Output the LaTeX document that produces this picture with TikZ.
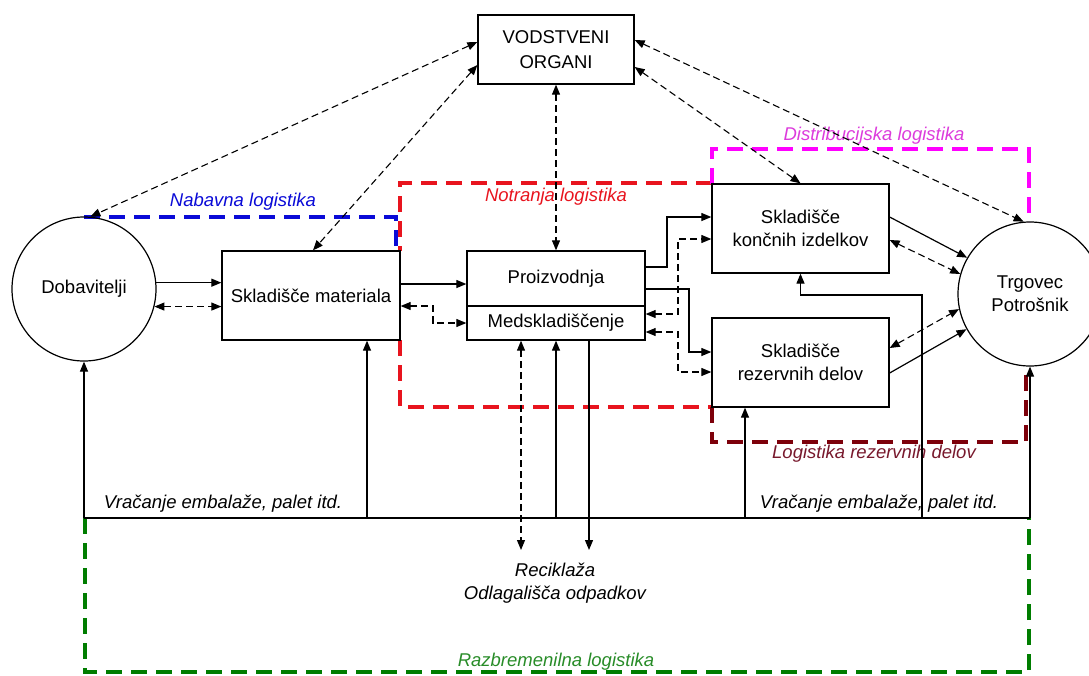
\documentclass[tikz,border=0pt]{standalone}
\usepackage{fontspec}
\setmainfont{Liberation Sans}
\usetikzlibrary{arrows.meta,calc}
\definecolor{cblue}{RGB}{10,10,215}
\definecolor{cred}{RGB}{232,20,30}
\definecolor{cmag}{RGB}{255,0,255}
\definecolor{cmaglbl}{RGB}{220,60,220}
\definecolor{cdred}{RGB}{125,0,10}
\definecolor{cdredlbl}{RGB}{120,25,45}
\definecolor{cgreen}{RGB}{0,125,0}
\definecolor{cgreenlbl}{RGB}{40,140,40}
\begin{document}
\begin{tikzpicture}[x=1pt,y=-1pt,
  every node/.style={font=\fontsize{18.5}{23}\selectfont, inner sep=0pt},
  box/.style={draw, line width=1.3pt, rectangle, minimum width=178pt, minimum height=89pt, align=center},
  circ/.style={draw, line width=1.2pt, circle, minimum size=144pt, align=center},
  arr/.style={line width=1.2pt, -{Triangle[length=10pt,width=8pt]}},
  darr/.style={line width=1.1pt, dash pattern=on 7pt off 4pt, {Triangle[length=10pt,width=8pt]}-{Triangle[length=10pt,width=8pt]}},
  region/.style={line width=4pt, dash pattern=on 16pt off 9pt},
  lbl/.style={font=\fontsize{18.5}{23}\selectfont\itshape, align=center}
]
\useasboundingbox (0,0) rectangle (1089,675);

% regions
\draw[region, cblue] (84,217) -- (396,217) -- (396,251);
\draw[region, cred] (712,183) -- (400,183) -- (400,251);
\draw[region, cred] (400,340) -- (400,407) -- (712,407);
\draw[region, cmag] (712,184) -- (712,149) -- (1029,149) -- (1029,222);
\draw[region, cdred] (712,407) -- (712,442) -- (1026,442) -- (1026,367);
\draw[region, cgreen] (85,518) -- (85,672) -- (1029,672) -- (1029,518);

% nodes
\node[box, minimum width=156pt, minimum height=69pt] (vod) at (556,49.5) {VODSTVENI\\[2pt]ORGANI};
\node[circ] (dob) at (84,289) {Dobavitelji};
\node[box] (mat) at (311,295.5) {Skladišče materiala};
\node[box, minimum height=55pt] (pro) at (556,278.5) {Proizvodnja};
\node[box, minimum height=34pt] (med) at (556,323) {Medskladiščenje};
\node[box, minimum width=177pt] (kon) at (800.5,228.5) {Skladišče\\končnih izdelkov};
\node[box, minimum width=177pt] (rez) at (800.5,362.5) {Skladišče\\rezervnih delov};
\node[circ] (trg) at (1030,294) {Trgovec\\Potrošnik};

% labels
\node[lbl, text=cblue] (lnab) at (243,202) {Nabavna logistika};
\node[lbl, text=cred] (lnot) at (556,197) {Notranja logistika};
\node[lbl, text=cmaglbl] (ldis) at (874,136) {Distribucijska logistika};
\node[lbl, text=cdredlbl] (lrez) at (874,454) {Logistika rezervnih delov};
\node[lbl, text=cgreenlbl] (lraz) at (556,662) {Razbremenilna logistika};
\node[lbl] (lvr1) at (223,504) {Vračanje embalaže, palet itd.};
\node[lbl] (lvr2) at (879,504) {Vračanje embalaže, palet itd.};
\node[lbl] (rec) at (555,583) {Reciklaža\\Odlagališča odpadkov};
\coordinate (recTop) at (555,550);

% management connectors
\draw[darr] (vod.west |- 0,42) -- (dob.85);
\draw[darr] (vod.west |- 0,65) -- (313,0 |- mat.north);
\draw[darr] (vod.south) -- (pro.north);
\draw[darr] (vod.east |- 0,67) -- (kon.north);
\draw[darr] (vod.east |- 0,40) -- (trg.95);

% flows
\draw[arr] (dob.5) -- (dob.5 -| mat.west);
\draw[darr] (dob.-14) -- (dob.-14 -| mat.west);
\draw[arr] (mat.east |- 0,284) -- (pro.west |- 0,284);
\draw[darr] (mat.east |- 0,306) -| (433,323) -- (med.west);
\draw[arr] (pro.east |- 0,267) -| (667,217) -- (kon.west |- 0,217);
\draw[arr] (pro.east |- 0,289) -| (689,352) -- (rez.west |- 0,352);
\draw[darr] (med.east |- 0,314) -| (678,239) -- (kon.west |- 0,239);
\draw[darr] (med.east |- 0,332) -| (678,372) -- (rez.west |- 0,372);
\draw[arr] (kon.east |- 0,217) -- (trg.150);
\draw[darr] (kon.east |- 0,240) -- (trg.164);
\draw[darr] (rez.east |- 0,348) -- (trg.192);
\draw[arr] (rez.east |- 0,373) -- (trg.209);

% return line
\coordinate (bl) at (84,518);
\coordinate (br) at (1030,518);
\draw[line width=1.2pt] (bl) -- (br);
\draw[arr] (dob.south |- bl) -- (dob.south);
\draw[arr] (367,518) -- (367,0 |- mat.south);
\draw[arr] (556,518) -- (med.south);
\draw[arr] (745,518) -- (745,0 |- rez.south);
\draw[arr] (922,518) |- (kon.south |- 0,295) -- (kon.south);
\draw[arr] (trg.south |- br) -- (trg.south);

% recycling
\draw[darr] (521,0 |- med.south) -- (521,0 |- recTop);
\draw[arr] (589,0 |- med.south) -- (589,0 |- recTop);
\end{tikzpicture}
\end{document}
